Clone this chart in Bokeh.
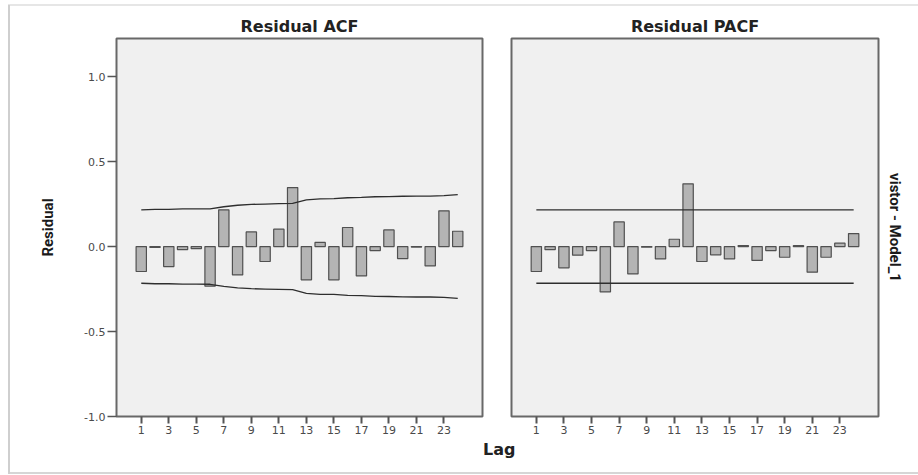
from bokeh.plotting import figure
from bokeh.models import Range1d, FixedTicker, Title, PrintfTickFormatter, ColumnDataSource
from bokeh.layouts import row
from bokeh.embed import file_html
from bokeh.resources import INLINE

# ---- data ----
lags = list(range(1, 25))
acf = [-0.147, -0.005, -0.118, -0.018, -0.012, -0.233, 0.216, -0.167, 0.086, -0.088,
       0.102, 0.347, -0.196, 0.024, -0.196, 0.112, -0.173, -0.024, 0.098, -0.071,
       -0.003, -0.114, 0.210, 0.090]
acf_upper = [0.216, 0.219, 0.219, 0.221, 0.221, 0.222, 0.234, 0.243, 0.248, 0.250,
             0.252, 0.254, 0.275, 0.281, 0.282, 0.287, 0.289, 0.293, 0.294, 0.296,
             0.297, 0.297, 0.299, 0.305]
acf_lower = [-0.216, -0.219, -0.219, -0.221, -0.221, -0.222, -0.234, -0.243, -0.248, -0.250,
             -0.252, -0.254, -0.275, -0.281, -0.282, -0.287, -0.289, -0.293, -0.294, -0.296,
             -0.297, -0.297, -0.299, -0.305]
pacf = [-0.147, -0.018, -0.125, -0.051, -0.024, -0.267, 0.145, -0.161, -0.004, -0.073,
        0.043, 0.369, -0.088, -0.049, -0.073, 0.006, -0.082, -0.024, -0.063, 0.005,
        -0.151, -0.063, 0.020, 0.076]
pacf_upper = [0.216] * len(lags)
pacf_lower = [-0.216] * len(lags)
y_ticks = [-1.0, -0.5, 0.0, 0.5, 1.0]
x_ticks = [1, 3, 5, 7, 9, 11, 13, 15, 17, 19, 21, 23]

BG = "#f0f0f0"
FRAME = "#686868"
BAR_FILL = "#b4b4b4"
BAR_LINE = "#505050"
LIM = "#2e2e2e"
TICK_FONT = "DejaVu Sans"
TITLE_FONT = "DejaVu Sans"
NARROW = "Roboto"


def make_fig(width, left, right, title):
    p = figure(width=width, height=475, min_border_left=left, min_border_right=right,
               min_border_top=38, min_border_bottom=59,
               x_range=Range1d(-0.8, 25.8), y_range=Range1d(-1.0, 1.224),
               output_backend="svg", toolbar_location=None, title=title)
    p.title.align = "center"
    p.title.vertical_align = "bottom"
    p.title.standoff = 6
    p.title.text_font = TITLE_FONT
    p.title.text_font_style = "bold"
    p.title.text_font_size = "16px"
    p.title.text_color = "#222222"
    p.background_fill_color = BG
    p.border_fill_color = None
    p.outline_line_color = FRAME
    p.outline_line_width = 2
    p.grid.visible = False
    p.xaxis.ticker = FixedTicker(ticks=x_ticks)
    p.xaxis.axis_line_color = None
    p.xaxis.major_tick_out = 7
    p.xaxis.major_tick_in = 0
    p.xaxis.minor_tick_line_color = None
    p.xaxis.major_tick_line_color = "#555555"
    p.xaxis.major_tick_line_width = 2
    p.xaxis.major_label_standoff = 2
    p.xaxis.major_label_text_font = TICK_FONT
    p.xaxis.major_label_text_font_size = "11px"
    p.xaxis.major_label_text_color = "#4a4a4a"
    return p


p1 = make_fig(522, 116, 40, "Residual ACF")
p1.yaxis.ticker = FixedTicker(ticks=y_ticks)
p1.yaxis.formatter = PrintfTickFormatter(format="%.1f")
p1.yaxis.axis_line_color = None
p1.yaxis.major_tick_out = 9
p1.yaxis.major_tick_in = 0
p1.yaxis.minor_tick_line_color = None
p1.yaxis.major_tick_line_color = "#555555"
p1.yaxis.major_tick_line_width = 1.5
p1.yaxis.major_label_standoff = 2
p1.yaxis.major_label_text_font = TICK_FONT
p1.yaxis.major_label_text_font_size = "11px"
p1.yaxis.major_label_text_color = "#4a4a4a"
p1.yaxis.axis_label = "Residual"
p1.yaxis.axis_label_standoff = 24
p1.yaxis.axis_label_text_font = NARROW
p1.yaxis.axis_label_text_font_style = "bold"
p1.yaxis.axis_label_text_font_size = "15px"
p1.yaxis.axis_label_text_color = "#1a1a1a"

src1 = ColumnDataSource(dict(lag=lags, v=acf, up=acf_upper, lo=acf_lower))
p1.vbar(x="lag", top="v", bottom=0, width=0.75, source=src1,
        fill_color=BAR_FILL, line_color=BAR_LINE, line_width=1.2)
p1.line(x="lag", y="up", source=src1, line_color=LIM, line_width=1.3)
p1.line(x="lag", y="lo", source=src1, line_color=LIM, line_width=1.3)

lag_title = Title(text="Lag", align="right", offset=-33, vertical_align="middle",
                  standoff=5, text_font=TITLE_FONT, text_font_style="bold",
                  text_font_size="16px", text_color="#222222")
p1.add_layout(lag_title, "below")

p2 = make_fig(418, 11, 40, "Residual PACF")
p2.yaxis.visible = False
p2.margin = (0, 0, 0, -22)

src2 = ColumnDataSource(dict(lag=lags, v=pacf, up=pacf_upper, lo=pacf_lower))
p2.vbar(x="lag", top="v", bottom=0, width=0.75, source=src2,
        fill_color=BAR_FILL, line_color=BAR_LINE, line_width=1.2)
p2.line(x="lag", y="up", source=src2, line_color=LIM, line_width=1.3)
p2.line(x="lag", y="lo", source=src2, line_color=LIM, line_width=1.3)

model_title = Title(text="vistor - Model_1", align="center", vertical_align="bottom",
                    standoff=14, text_font=NARROW, text_font_style="bold",
                    text_font_size="15px", text_color="#1a1a1a")
p2.add_layout(model_title, "right")

frame_bg = ("linear-gradient(#cfcfcf,#cfcfcf) 8px 5px / 2px 469px no-repeat, "
            "linear-gradient(#e6e6e6,#e6e6e6) 8px 4px / 910px 2px no-repeat, "
            "linear-gradient(#d6d6d6,#d6d6d6) 8px 472px / 910px 2px no-repeat, white")
layout = row(p1, p2, styles={"background": frame_bg})
open("out.html", "w").write(file_html(layout, INLINE))
